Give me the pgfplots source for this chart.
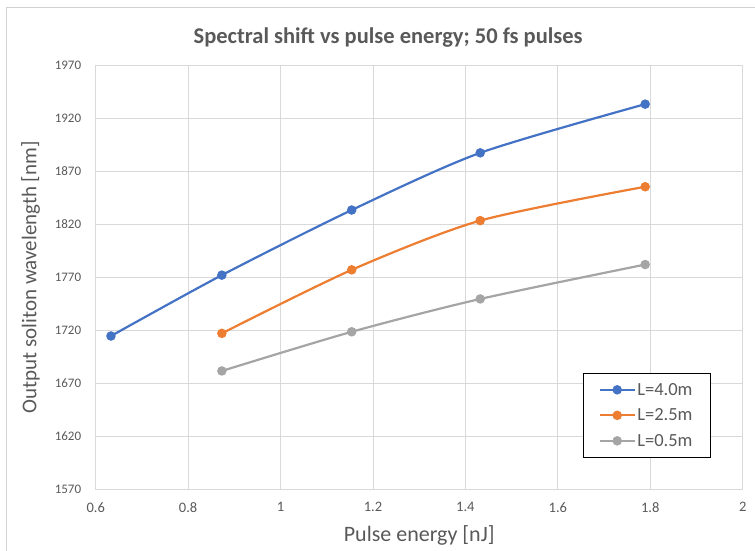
\documentclass[border=0pt]{standalone}
\usepackage{pgfplots}
\pgfplotsset{compat=1.18}
\usepackage{fontspec}
\setmainfont{Carlito}
\definecolor{xlblue}{HTML}{4472C4}
\definecolor{xlorange}{HTML}{ED7D31}
\definecolor{xlgray}{HTML}{A5A5A5}
\definecolor{txtgray}{HTML}{595959}
\definecolor{gridgray}{HTML}{D9D9D9}
\begin{document}
\begin{tikzpicture}
	% fixed page size: 755 x 550
	\path[use as bounding box] (-95.7pt,-61pt) rectangle (659.3pt,489pt);
	\draw[gray!35] (-89.7pt,-70pt) rectangle (670pt,482pt);
	\begin{axis}[
		scale only axis, width=647pt, height=423.5pt,
		xmin=0.6, xmax=2, ymin=1570, ymax=1970,
		xtick={0.6,0.8,...,2.01}, ytick={1570,1620,...,1970},
		grid=major, grid style={gridgray, line width=0.8pt},
		axis line style={gridgray, line width=0.8pt},
		tick style={draw=none},
		/pgf/number format/assume math mode=true,
		x tick label style={/pgf/number format/.cd, fixed, precision=1,/tikz/.cd},
		y tick label style={/pgf/number format/.cd, fixed, 1000 sep={},/tikz/.cd},
		xticklabel style={font=\fontsize{14.5}{17}\selectfont, text=txtgray, yshift=-10pt},
		yticklabel style={font=\fontsize{13}{15}\selectfont, text=txtgray, xshift=-11pt},
		xlabel={Pulse energy [nJ]}, ylabel={Output soliton wavelength [nm]},
		xlabel style={font=\fontsize{22}{26}\selectfont, text=txtgray, at={(0.5,0)}, anchor=center, yshift=-46pt},
		ylabel style={font=\fontsize{21}{25}\selectfont, text=txtgray, anchor=center},
		every axis y label/.append style={at={(-65pt,211.75pt)}, rotate=0},
		title={Spectral shift vs pulse energy; 50 fs pulses},
		title style={font=\bfseries\fontsize{22.5}{26}\selectfont, text=txtgray, at={(0.452,1)}, anchor=center, yshift=21.5pt},
		legend style={at={(0.951,0.073)}, anchor=south east, draw=black, line width=1pt,
			font=\fontsize{18.5}{22}\selectfont, text=txtgray, row sep=8pt,
			inner xsep=16pt, inner ysep=8pt},
		legend cell align=left,
		legend image code/.code={
			\draw[#1, mark repeat=2, mark phase=2] plot coordinates {(0pt,0pt) (17pt,0pt) (34pt,0pt)};
		},
		every axis plot/.append style={line width=2.2pt, smooth, tension=0.45, mark=*, mark size=3.6pt},
		clip=false,
	]
		\addplot[xlblue, mark options={fill=xlblue, draw=xlblue}] coordinates {
			(0.633,1714.5) (0.873,1772) (1.154,1833.5) (1.432,1887.5) (1.789,1933.5)
		};
		\addlegendentry{L=4.0m}
		\addplot[xlorange, mark options={fill=xlorange, draw=xlorange}] coordinates {
			(0.873,1717) (1.154,1777) (1.432,1823.5) (1.789,1855.5)
		};
		\addlegendentry{L=2.5m}
		\addplot[xlgray, mark options={fill=xlgray, draw=xlgray}] coordinates {
			(0.873,1681.5) (1.154,1718.5) (1.432,1749.5) (1.789,1782)
		};
		\addlegendentry{L=0.5m}
	\end{axis}
\end{tikzpicture}
\end{document}
